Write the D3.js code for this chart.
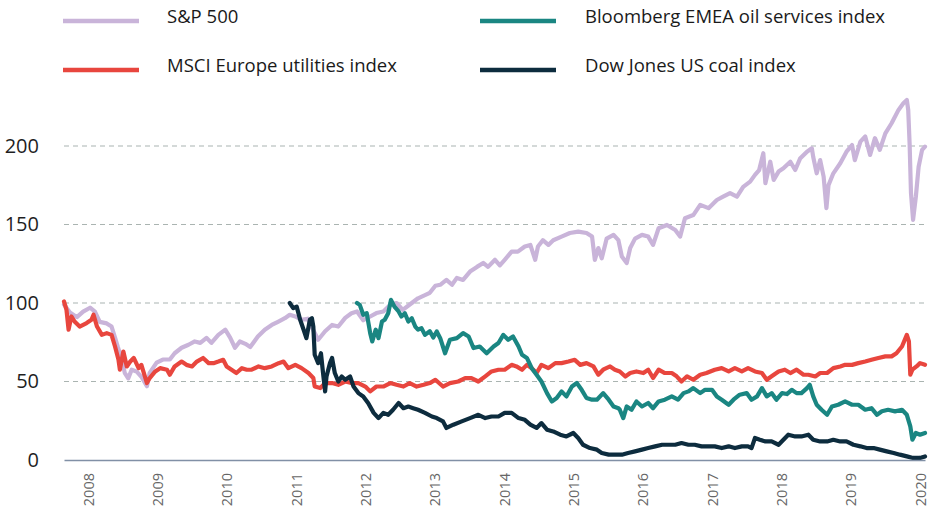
<!DOCTYPE html>
<html>
<head>
<meta charset="utf-8">
<script src="https://cdn.jsdelivr.net/npm/d3@7"></script>
<style>
  body { margin: 0; background: #fff; }
  text { font-family: "Open Sans", Lato, sans-serif; }
</style>
</head>
<body>
<svg id="chart"></svg>
<script>
const width = 933;
const height = 512;

const seriesNames = ["S&P 500", "MSCI Europe utilities index", "Bloomberg EMEA oil services index", "Dow Jones US coal index"];
const colors = ["#c9b4d9", "#e8463e", "#1a8682", "#0d2c3e"];
const yearTicks = [2008, 2009, 2010, 2011, 2012, 2013, 2014, 2015, 2016, 2017, 2018, 2019, 2020];
const valueTicks = [0, 50, 100, 150, 200];

// [decimal year, index value]
const sp500 = [
  [2007.654, 99], [2007.74, 94], [2007.84, 91], [2007.93, 94.5], [2008.03, 97], [2008.10, 94.5],
  [2008.17, 88], [2008.27, 87], [2008.34, 85], [2008.39, 78], [2008.43, 72], [2008.49, 64],
  [2008.53, 55.5], [2008.58, 52], [2008.63, 57.5], [2008.70, 56.4], [2008.77, 53], [2008.85, 47],
  [2008.89, 55.5], [2008.99, 62], [2009.08, 64], [2009.18, 64], [2009.25, 68], [2009.35, 71.5],
  [2009.45, 73.4], [2009.54, 75.5], [2009.62, 74.6], [2009.71, 77.8], [2009.78, 74.6], [2009.88, 79.7],
  [2009.98, 83], [2010.05, 78], [2010.12, 71.5], [2010.19, 75.5], [2010.27, 74], [2010.34, 72],
  [2010.45, 78.6], [2010.55, 83], [2010.65, 86], [2010.74, 88], [2010.84, 90.3], [2010.91, 92.5],
  [2010.99, 91.4], [2011.08, 89.3], [2011.17, 90], [2011.27, 81], [2011.32, 76.6], [2011.42, 82],
  [2011.52, 86], [2011.61, 85], [2011.71, 90.5], [2011.80, 93.5], [2011.88, 94.6], [2011.97, 89],
  [2012.07, 91.4], [2012.16, 93.6], [2012.26, 94.6], [2012.36, 98.8], [2012.45, 100], [2012.54, 95.6],
  [2012.67, 100], [2012.76, 103], [2012.86, 105], [2012.93, 106.5], [2013.01, 111], [2013.08, 111.6],
  [2013.17, 114.7], [2013.25, 111.6], [2013.32, 116], [2013.41, 114.7], [2013.51, 120], [2013.61, 123],
  [2013.70, 125.5], [2013.77, 123], [2013.87, 127.5], [2013.94, 124], [2014.01, 127.5], [2014.11, 132.7],
  [2014.20, 132.7], [2014.30, 136], [2014.38, 137], [2014.45, 127.5], [2014.49, 136], [2014.56, 140],
  [2014.64, 137], [2014.71, 140], [2014.83, 142.3], [2014.95, 144.6], [2015.07, 145.5], [2015.19, 144.6],
  [2015.27, 142.3], [2015.31, 127.5], [2015.36, 135], [2015.41, 128.5], [2015.48, 141], [2015.58, 143.4],
  [2015.65, 140], [2015.70, 129.6], [2015.77, 125.4], [2015.82, 135], [2015.89, 141], [2015.99, 143.4],
  [2016.08, 142.3], [2016.15, 137], [2016.23, 147.6], [2016.35, 149.7], [2016.47, 146.5], [2016.54, 142.3],
  [2016.61, 154], [2016.73, 156], [2016.83, 162.5], [2016.95, 160.4], [2017.07, 165.6], [2017.16, 167.7],
  [2017.26, 170], [2017.36, 167.7], [2017.45, 174], [2017.55, 177.3], [2017.62, 181.6], [2017.68, 184.7],
  [2017.74, 195.4], [2017.77, 176.3], [2017.84, 190], [2017.89, 178.4], [2017.96, 183.7], [2018.03, 185.8],
  [2018.13, 190], [2018.20, 184.7], [2018.27, 192], [2018.37, 196.4], [2018.44, 198.5], [2018.46, 193],
  [2018.51, 182.6], [2018.56, 191], [2018.61, 180.5], [2018.65, 160.4], [2018.68, 175], [2018.75, 182.6],
  [2018.85, 189], [2018.94, 196.4], [2019.02, 200.6], [2019.06, 191], [2019.14, 202.8], [2019.21, 206],
  [2019.28, 194.3], [2019.35, 205], [2019.42, 197.5], [2019.50, 208], [2019.59, 214.5], [2019.69, 223],
  [2019.76, 227.2], [2019.81, 229.3], [2019.83, 223], [2019.85, 201.7], [2019.87, 170], [2019.90, 153],
  [2019.94, 167.7], [2019.98, 186.8], [2020.03, 197.5], [2020.072, 199.6]
];

const utilities = [
  [2007.654, 101], [2007.69, 95.6], [2007.72, 83], [2007.76, 91.4], [2007.81, 88], [2007.88, 85],
  [2007.98, 87.2], [2008.05, 89.3], [2008.08, 92.5], [2008.13, 85], [2008.20, 79.7], [2008.27, 80.8],
  [2008.34, 79.7], [2008.39, 72.3], [2008.44, 63.8], [2008.46, 57.5], [2008.51, 69.1], [2008.56, 59.6],
  [2008.61, 62.7], [2008.66, 65], [2008.73, 58.5], [2008.77, 60.6], [2008.85, 49], [2008.89, 52.2],
  [2008.97, 56.4], [2009.04, 58.5], [2009.14, 57.5], [2009.18, 54.3], [2009.25, 59.6], [2009.35, 62.7],
  [2009.42, 60.6], [2009.50, 59.6], [2009.57, 62.7], [2009.66, 65], [2009.74, 61.7], [2009.81, 61.7],
  [2009.88, 62.7], [2009.95, 63.8], [2010.00, 59.6], [2010.07, 57.5], [2010.14, 55.4], [2010.22, 58.5],
  [2010.29, 57.5], [2010.36, 57.5], [2010.46, 59.6], [2010.55, 58.5], [2010.65, 59.6], [2010.75, 61.7],
  [2010.82, 62.7], [2010.89, 58.5], [2010.99, 60.6], [2011.08, 58.5], [2011.18, 55.4], [2011.25, 52.2],
  [2011.27, 46.8], [2011.35, 45.8], [2011.42, 49], [2011.52, 49], [2011.61, 47.9], [2011.71, 50],
  [2011.80, 49], [2011.90, 49], [2012.00, 46.8], [2012.07, 43.7], [2012.16, 46.8], [2012.26, 46.8],
  [2012.36, 49], [2012.45, 47.9], [2012.55, 46.8], [2012.64, 49], [2012.74, 46.8], [2012.84, 47.9],
  [2012.93, 49], [2013.01, 51.1], [2013.12, 46.8], [2013.22, 49], [2013.34, 50], [2013.44, 52.2],
  [2013.53, 52.2], [2013.63, 50], [2013.73, 53.3], [2013.82, 56.4], [2013.92, 57.5], [2014.01, 57.5],
  [2014.11, 60.6], [2014.18, 59.6], [2014.26, 57.5], [2014.33, 60.6], [2014.40, 58.5], [2014.47, 55.4],
  [2014.54, 60.6], [2014.64, 58.5], [2014.74, 61.7], [2014.83, 61.7], [2014.93, 62.7], [2015.02, 63.8],
  [2015.10, 60.6], [2015.19, 61.7], [2015.29, 59.6], [2015.36, 54.3], [2015.43, 57.5], [2015.53, 59.6],
  [2015.60, 57.5], [2015.67, 56.4], [2015.75, 53.2], [2015.82, 55.4], [2015.91, 56.4], [2016.01, 55.4],
  [2016.08, 57.5], [2016.15, 52.2], [2016.23, 57.5], [2016.32, 55.4], [2016.42, 55.4], [2016.49, 53.3],
  [2016.56, 50], [2016.64, 53.3], [2016.73, 51.1], [2016.83, 54.3], [2016.92, 55.4], [2017.04, 57.5],
  [2017.14, 58.5], [2017.24, 56.4], [2017.33, 58.5], [2017.43, 56.4], [2017.52, 58.5], [2017.62, 56.4],
  [2017.72, 55.4], [2017.79, 51.1], [2017.86, 53.3], [2017.96, 56.4], [2018.05, 57.5], [2018.13, 55.4],
  [2018.22, 57.5], [2018.32, 54.3], [2018.39, 54.3], [2018.49, 53.2], [2018.56, 55.4], [2018.66, 55.4],
  [2018.75, 58.5], [2018.85, 59.6], [2018.92, 60.6], [2019.02, 60.6], [2019.11, 61.7], [2019.21, 62.7],
  [2019.30, 63.8], [2019.40, 65], [2019.50, 66], [2019.59, 66], [2019.66, 68], [2019.74, 72.3],
  [2019.81, 79.7], [2019.84, 75.5], [2019.86, 54.3], [2019.89, 57.5], [2019.95, 59.6], [2020.00, 61.7],
  [2020.072, 60.6]
];

const oilServices = [
  [2011.88, 100], [2011.92, 98.8], [2011.97, 92.5], [2012.02, 93.5], [2012.07, 80.8], [2012.10, 75.5],
  [2012.15, 83], [2012.19, 77.6], [2012.24, 88.2], [2012.28, 89.3], [2012.33, 93.5], [2012.37, 102],
  [2012.42, 97.7], [2012.48, 94.6], [2012.52, 91.4], [2012.57, 93.5], [2012.62, 88.2], [2012.67, 90.3],
  [2012.72, 85], [2012.76, 83], [2012.81, 84], [2012.86, 79.7], [2012.93, 82], [2012.98, 78],
  [2013.03, 81.9], [2013.08, 77.6], [2013.15, 68], [2013.22, 76.6], [2013.32, 77.6], [2013.41, 80.8],
  [2013.49, 78.7], [2013.56, 71.3], [2013.65, 72.3], [2013.75, 68], [2013.85, 72.3], [2013.92, 74.5],
  [2013.99, 79.7], [2014.06, 76.6], [2014.13, 78.7], [2014.21, 72.3], [2014.26, 67], [2014.33, 65],
  [2014.40, 58.5], [2014.47, 54.3], [2014.54, 50], [2014.62, 42.6], [2014.69, 37.3], [2014.76, 39.5],
  [2014.83, 43.7], [2014.90, 40.5], [2014.98, 46.8], [2015.05, 49], [2015.12, 44.7], [2015.19, 39.5],
  [2015.27, 38.4], [2015.34, 38.4], [2015.43, 42.6], [2015.51, 38.4], [2015.58, 34.1], [2015.65, 33],
  [2015.67, 32], [2015.72, 26.7], [2015.77, 34.1], [2015.84, 32], [2015.91, 37.3], [2015.99, 34.1],
  [2016.08, 36.3], [2016.15, 33], [2016.23, 37.3], [2016.32, 38.4], [2016.42, 40.5], [2016.51, 38.4],
  [2016.59, 42.6], [2016.66, 43.7], [2016.73, 45.8], [2016.83, 42.6], [2016.90, 44.7], [2017.00, 44.7],
  [2017.07, 40.5], [2017.14, 38.4], [2017.24, 35.2], [2017.31, 38.4], [2017.40, 41.6], [2017.50, 42.6],
  [2017.57, 38.4], [2017.65, 40.5], [2017.72, 45.8], [2017.79, 40.5], [2017.86, 42.6], [2017.93, 38.4],
  [2018.01, 42.6], [2018.08, 42], [2018.15, 44.7], [2018.22, 42.6], [2018.29, 42.6], [2018.37, 45.8],
  [2018.41, 47.9], [2018.46, 40.5], [2018.51, 35.2], [2018.58, 32], [2018.66, 28.8], [2018.73, 34.1],
  [2018.82, 35.2], [2018.92, 37.3], [2019.02, 35.2], [2019.11, 35.2], [2019.21, 32], [2019.30, 33],
  [2019.38, 28.8], [2019.45, 31], [2019.54, 32], [2019.64, 31], [2019.74, 32], [2019.81, 28.8],
  [2019.86, 21.4], [2019.89, 12.9], [2019.94, 17.2], [2020.00, 16.1], [2020.072, 17.2]
];

const coal = [
  [2010.91, 100], [2010.96, 96.7], [2011.01, 97.7], [2011.06, 89.3], [2011.11, 83], [2011.15, 77.6],
  [2011.20, 89.3], [2011.23, 90.3], [2011.25, 85], [2011.27, 67], [2011.32, 61.7], [2011.36, 68],
  [2011.39, 55.4], [2011.42, 43.7], [2011.44, 53.2], [2011.49, 61.7], [2011.52, 65], [2011.56, 55.4],
  [2011.61, 50], [2011.66, 53.2], [2011.71, 51.1], [2011.78, 53.2], [2011.83, 46.8], [2011.90, 42.6],
  [2011.97, 40.5], [2012.04, 36.3], [2012.12, 30], [2012.19, 26.7], [2012.26, 30], [2012.33, 28.8],
  [2012.40, 32], [2012.48, 36.3], [2012.55, 33], [2012.62, 34], [2012.69, 33], [2012.76, 32],
  [2012.86, 30], [2012.96, 27.7], [2013.03, 26.7], [2013.12, 24.6], [2013.17, 20.4], [2013.27, 22.5],
  [2013.39, 24.6], [2013.51, 26.7], [2013.63, 28.8], [2013.73, 26.7], [2013.82, 27.7], [2013.92, 27.7],
  [2014.01, 30], [2014.11, 30], [2014.21, 26.7], [2014.30, 25.6], [2014.38, 22.5], [2014.47, 20.4],
  [2014.54, 23.5], [2014.62, 19.3], [2014.71, 18.2], [2014.81, 16.1], [2014.90, 15], [2015.00, 17.2],
  [2015.07, 14], [2015.14, 9.7], [2015.24, 7.6], [2015.34, 6.6], [2015.41, 4.5], [2015.51, 3.4],
  [2015.60, 3.4], [2015.70, 3.4], [2015.79, 4.5], [2015.89, 5.5], [2015.99, 6.6], [2016.08, 7.6],
  [2016.18, 8.7], [2016.28, 9.7], [2016.37, 9.7], [2016.47, 9.7], [2016.56, 10.8], [2016.66, 9.7],
  [2016.75, 9.7], [2016.85, 8.7], [2016.95, 8.7], [2017.04, 8.7], [2017.14, 7.6], [2017.24, 8.7],
  [2017.33, 7.6], [2017.43, 8.7], [2017.52, 8.7], [2017.57, 7.6], [2017.62, 14], [2017.69, 12.9],
  [2017.77, 11.8], [2017.86, 11.8], [2017.96, 9.7], [2018.03, 12.9], [2018.10, 16.1], [2018.20, 15],
  [2018.29, 15], [2018.39, 16.1], [2018.46, 12.9], [2018.56, 11.8], [2018.66, 11.8], [2018.75, 12.9],
  [2018.85, 11.8], [2018.94, 11.8], [2019.04, 9.7], [2019.14, 8.7], [2019.23, 7.6], [2019.33, 7.6],
  [2019.42, 6.6], [2019.52, 5.5], [2019.62, 4.5], [2019.71, 3.4], [2019.81, 2.3], [2019.90, 1.3],
  [2020.00, 1.3], [2020.072, 2.3]
];

const seriesData = [sp500, utilities, oilServices, coal];

const svg = d3.select("#chart")
  .attr("width", width)
  .attr("height", height);

const xScale = d3.scaleLinear()
  .domain([2007.654, 2020.072])
  .range([64, 925]);

const yScale = d3.scaleLinear()
  .domain([0, 200])
  .range([460, 146]);

// dashed gridlines
svg.append("g")
  .selectAll("line")
  .data(valueTicks.filter(d => d > 0))
  .enter()
  .append("line")
  .attr("x1", 64)
  .attr("x2", 925)
  .attr("y1", d => yScale(d))
  .attr("y2", d => yScale(d))
  .attr("stroke", "#aab4b1")
  .attr("stroke-width", 1.2)
  .attr("stroke-dasharray", "5,4");

// y axis labels
const yAxis = d3.axisLeft(yScale).tickValues(valueTicks).tickSize(0).tickPadding(0);
svg.append("g")
  .attr("transform", "translate(39,0)")
  .call(yAxis)
  .call(g => g.select(".domain").remove())
  .selectAll("text")
  .attr("font-size", 20)
  .attr("fill", "#1f1f1f")
  .style("font-family", "'Open Sans', sans-serif");

// lines
const line = d3.line()
  .x(d => xScale(d[0]))
  .y(d => yScale(d[1]));

svg.append("g")
  .selectAll("path")
  .data(seriesData)
  .enter()
  .append("path")
  .attr("d", line)
  .attr("fill", "none")
  .attr("stroke", (d, i) => colors[i])
  .attr("stroke-width", 4.2)
  .attr("stroke-linejoin", "round")
  .attr("stroke-linecap", "round");

// x axis
const xAxis = d3.axisBottom(xScale)
  .tickValues(yearTicks)
  .tickFormat(d3.format("d"))
  .tickSize(0);

const xg = svg.append("g")
  .attr("transform", `translate(0, ${yScale(0)})`)
  .call(xAxis);

xg.select(".domain")
  .attr("stroke", "#8190a6")
  .attr("stroke-width", 1.5);

xg.selectAll("text")
  .attr("transform", "rotate(-90)")
  .attr("text-anchor", "end")
  .attr("x", -13)
  .attr("y", 0)
  .attr("dy", "0.35em")
  .attr("font-size", 14.5)
  .attr("fill", "#666")
  .style("font-family", "'Open Sans', sans-serif");

// legend
const legendPos = [[63, 21], [63, 70], [480, 21], [480, 70]];
const legend = svg.append("g")
  .selectAll("g")
  .data(seriesNames)
  .enter()
  .append("g")
  .attr("transform", (d, i) => `translate(${legendPos[i][0]}, ${legendPos[i][1]})`);

legend.append("line")
  .attr("x1", 0)
  .attr("x2", 76)
  .attr("stroke", (d, i) => colors[i])
  .attr("stroke-width", 4.5);

legend.append("text")
  .attr("x", (d, i) => i < 2 ? 104 : 105)
  .attr("y", 1.5)
  .attr("font-size", 18.5)
  .attr("fill", "#1a1a1a")
  .text(d => d);
</script>
</body>
</html>
